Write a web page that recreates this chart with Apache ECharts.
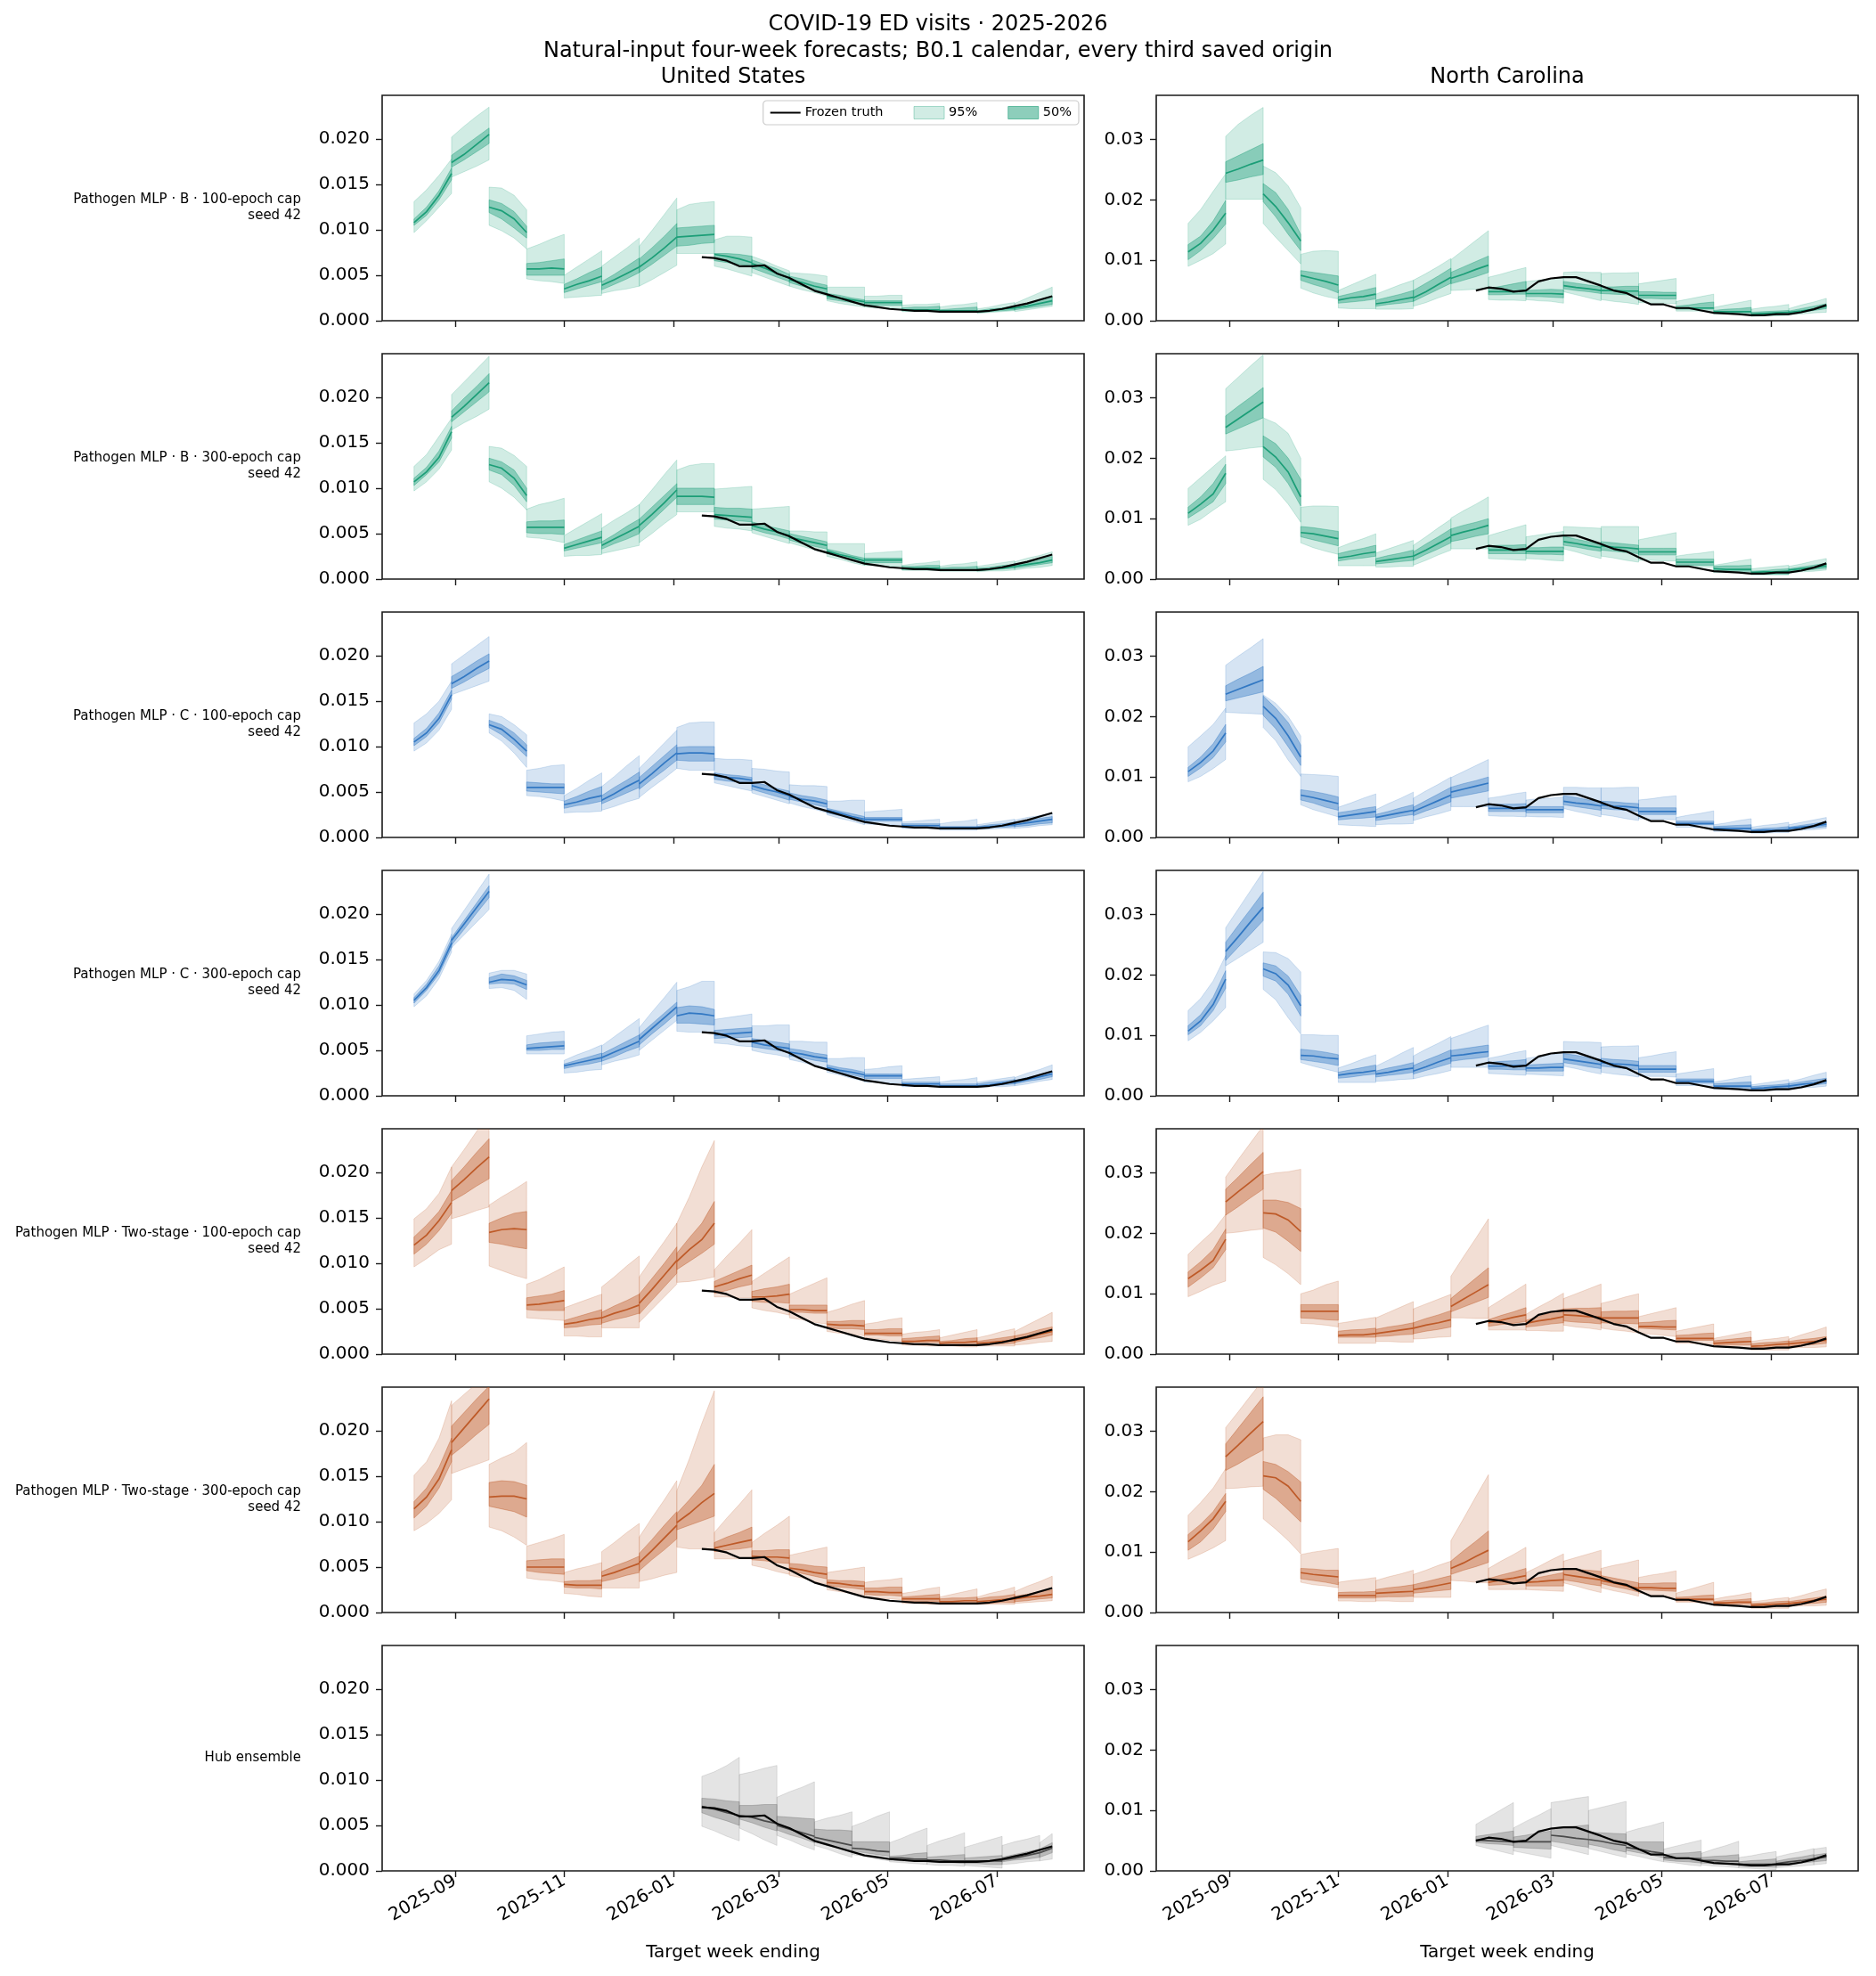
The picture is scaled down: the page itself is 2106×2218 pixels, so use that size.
<!DOCTYPE html>
<html>
<head>
<meta charset="utf-8">
<script src="https://cdn.jsdelivr.net/npm/echarts@6/dist/echarts.min.js"></script>
<style>
  html, body { margin: 0; padding: 0; background: #fff; }
  #chart { width: 2106px; height: 2218px; }
</style>
</head>
<body>
<div id="chart"></div>
<script>
// target week ending (Saturdays)
const weekEnding = [
  '2025-08-09','2025-08-16','2025-08-23','2025-08-30','2025-09-06','2025-09-13','2025-09-20','2025-09-27',
  '2025-10-04','2025-10-11','2025-10-18','2025-10-25','2025-11-01','2025-11-08','2025-11-15','2025-11-22',
  '2025-11-29','2025-12-06','2025-12-13','2025-12-20','2025-12-27','2026-01-03','2026-01-10','2026-01-17',
  '2026-01-24','2026-01-31','2026-02-07','2026-02-14','2026-02-21','2026-02-28','2026-03-07','2026-03-14',
  '2026-03-21','2026-03-28','2026-04-04','2026-04-11','2026-04-18','2026-04-25','2026-05-02','2026-05-09',
  '2026-05-16','2026-05-23','2026-05-30','2026-06-06','2026-06-13','2026-06-20','2026-06-27','2026-07-04',
  '2026-07-11','2026-07-18','2026-07-25','2026-08-01'
];
// forecast origins (index into weekEnding), every third saved origin
const modelSegStarts = [0, 3, 6, 9, 12, 15, 18, 21, 24, 27, 30, 33, 36, 39, 42, 45, 48];
const hubSegStarts = [23, 26, 29, 32, 35, 38, 41, 44, 47, 50];
const truthStart = 23;
const xTickLabels = ['2025-09-01', '2025-11-01', '2026-01-01', '2026-03-01', '2026-05-01', '2026-07-01'];
const usTicks = [0, 0.005, 0.01, 0.015, 0.02];
const ncTicks = [0, 0.01, 0.02, 0.03];

// all values below in thousandths
const usTruth = [7.0,6.9,6.6,6.0,6.0,6.1,5.2,4.7,4.0,3.3,2.9,2.5,2.1,1.7,1.5,1.3,1.2,1.1,1.1,1.0,1.0,1.0,1.0,1.1,1.3,1.6,1.9,2.3,2.7];
const ncTruth = [5.0,5.5,5.3,4.8,5.0,6.5,7.0,7.2,7.2,6.5,5.8,5.0,4.6,3.6,2.7,2.7,2.1,2.1,1.7,1.3,1.2,1.1,0.9,0.9,1.1,1.1,1.4,1.9,2.6];

// Pathogen MLP · B · 100-epoch cap
const usB100Med = [10.8,12,13.8,16.2, 17.4,18.3,19.4,20.5, 12.5,12.1,11.2,9.7, 5.7,5.7,5.8,5.7, 3.5,4,4.4,4.9, 3.9,4.5,5.2,5.9, 5.9,6.9,8,9.2, 9.2,9.3,9.4,9.5, 7.3,7.1,6.8,6.4, 6.3,5.8,5.2,4.7, 4.5,4.2,3.8,3.5, 2.7,2.5,2.3,2.1, 2,2,2,2, 1.2,1.2,1.2,1.2, 1.1,1.1,1.1,1.1, 1,1.1,1.3,1.4, 1.4,1.6,1.9,2.2];
const usB100Lo50 = [10.5,11.6,13.3,15.5, 16.9,17.7,18.6,19.5, 11.9,11.2,10.2,9.1, 5,5,5,5, 3.1,3.5,3.9,4.3, 3.4,4,4.6,5.3, 5.3,6.2,7.2,8.2, 8.2,8.3,8.5,8.6, 6.6,6.4,6.2,6, 5.8,5.3,4.8,4.3, 4.2,3.8,3.4,3, 2.4,2.2,2,1.8, 1.7,1.7,1.7,1.7, 1.1,1.1,1.1,1.1, 1,1,1,1, 0.9,1,1.1,1.2, 1.2,1.4,1.6,1.8];
const usB100Hi50 = [11.2,12.5,14.3,16.8, 18.2,19.2,20.2,21.2, 13.3,12.9,12,10.4, 6.3,6.4,6.6,6.8, 4,4.6,5.3,5.9, 4.3,5.1,6,6.9, 6.8,8,9.3,10.7, 10.2,10.3,10.4,10.5, 7.4,7.4,7.3,7.1, 6.7,6.2,5.7,5.1, 4.9,4.6,4.2,3.9, 3,2.8,2.5,2.3, 2.2,2.2,2.2,2.2, 1.4,1.5,1.5,1.6, 1.2,1.3,1.4,1.5, 1.1,1.3,1.4,1.6, 1.6,1.9,2.3,2.7];
const usB100Lo95 = [9.7,11,12.5,14, 15.8,16.4,17,17.7, 10.5,9.9,9.1,7.9, 4.6,4.4,4.3,4.1, 2.5,2.6,2.7,2.8, 3,3.3,3.5,3.8, 3.8,4.5,5.3,6.1, 7.4,7.4,7.4,7.4, 6,5.7,5.3,4.9, 5.3,4.8,4.3,3.8, 3.8,3.4,3.1,2.7, 2.2,1.9,1.7,1.5, 1.5,1.4,1.4,1.3, 1,1,1,1, 0.9,0.9,0.9,0.9, 0.8,0.9,1,1.1, 1,1.2,1.4,1.6];
const usB100Hi95 = [13.1,14.4,16,17.8, 20.2,21.4,22.5,23.5, 14.7,14.6,13.8,12.2, 7.9,8.4,9,9.5, 5,5.9,6.8,7.7, 6,7,8,9.1, 8.2,9.9,11.7,13.5, 12.2,12.8,13,13.1, 8.9,9.3,9.3,9.2, 7.1,6.6,6,5.5, 5.3,5.2,5.1,4.9, 3.7,3.7,3.7,3.7, 2.7,2.7,2.8,2.8, 1.7,1.8,1.8,1.9, 1.5,1.7,1.8,2, 1.3,1.5,1.8,2, 1.9,2.5,3.1,3.7];
const ncB100Med = [11.4,12.8,15,17.8, 24.4,25.1,25.9,26.6, 21,18.9,16.2,13.2, 7.5,7,6.5,5.9, 3.4,3.8,4,4.4, 2.8,3.1,3.5,3.9, 3.8,4.8,6,7.2, 7,7.7,8.5,9.2, 4.8,4.8,4.8,5, 4.5,4.5,4.5,4.4, 5.8,5.5,5.3,5, 5,5,4.9,4.9, 4.2,4.2,4.2,4.2, 2.1,2.1,2.1,2.1, 1.5,1.5,1.5,1.5, 1.1,1.2,1.3,1.4, 1.4,1.6,1.9,2.4];
const ncB100Lo50 = [10.1,11.6,13.6,16, 22.9,23.3,23.8,24.2, 19.7,17.2,14.3,11.6, 6.7,6,5.4,4.6, 2.9,3.1,3.3,3.6, 2.4,2.7,2.9,3.2, 3.2,4.2,5.2,6.2, 6.1,6.7,7.3,8, 4.3,4.3,4.4,4.4, 4,4,3.9,3.8, 5.3,5,4.8,4.5, 4.5,4.4,4.3,4.2, 3.7,3.7,3.6,3.6, 1.9,1.9,1.9,1.9, 1.3,1.3,1.3,1.3, 0.9,1,1,1.1, 1.2,1.4,1.7,2];
const ncB100Hi50 = [12.6,14,16.5,19.9, 26.3,27.3,28.3,29.3, 22.7,21.2,18.4,14.3, 8.3,8,7.7,7.4, 4,4.5,5,5.5, 3.4,3.9,4.4,5, 5,6.2,7.4,8.7, 8,8.9,9.8,10.7, 5.3,5.7,6.1,6.5, 5,5.1,5.2,5.1, 6.5,6.2,5.9,5.6, 5.6,5.6,5.7,5.7, 4.8,4.8,4.7,4.7, 2.4,2.6,2.9,3.1, 1.7,1.9,2,2.2, 1.4,1.5,1.6,1.7, 1.6,2,2.4,2.8];
const ncB100Lo95 = [9,10,11.1,12.7, 20.1,20.1,20.1,20.1, 16.1,13.8,11.6,9.4, 5.4,4.6,4,3.6, 2.1,2,2,2, 1.9,1.9,1.9,2, 2.4,3,3.8,4.5, 5,5.1,5.2,5.3, 3.5,3.4,3.4,3.3, 3.5,3.3,3.2,2.9, 4.8,4.3,3.8,3.3, 3.5,3.2,3,2.7, 3,2.9,2.9,2.8, 1.6,1.6,1.6,1.6, 1.1,1.1,1.1,1.1, 0.7,0.8,0.8,0.9, 1,1.1,1.3,1.4];
const ncB100Hi95 = [16.1,18.4,21.4,24.3, 30.5,32.5,34,35.3, 25.6,24.5,22.3,18.7, 11,11.5,11.6,11.5, 5,5.9,6.8,7.7, 4.4,5.2,6,6.7, 6.7,7.8,9,10.3, 10.1,11.7,13.3,14.9, 7.2,7.7,8.3,8.8, 6.5,6.7,7,7, 8,8.1,8,8, 7.8,7.9,7.9,8, 6.1,6.4,6.7,7, 3.2,3.6,4,4.4, 2.2,2.6,3,3.4, 1.9,2.2,2.4,2.7, 2,2.6,3.1,3.7];

// Pathogen MLP · B · 300-epoch cap
const usB300Med = [10.7,11.8,13.4,16.2, 17.8,19,20.3,21.6, 12.6,12.2,11.1,9.2, 5.7,5.7,5.7,5.7, 3.4,3.8,4.2,4.6, 3.7,4.4,5.1,5.8, 5.9,7.1,8.4,9.8, 9.1,9.1,9.1,9, 7.1,7,6.9,6.8, 5.9,5.5,5.2,4.8, 4.6,4.3,4,3.7, 3.1,2.7,2.4,2, 2.1,2.1,2.1,2.1, 1.2,1.2,1.2,1.2, 1,1,1,1, 1,1.1,1.2,1.4, 1.4,1.6,1.8,2.1];
const usB300Lo50 = [10.3,11.5,12.9,15.5, 17.3,18.4,19.5,20.6, 12,11.5,10.3,8.5, 5.1,5,5,4.9, 3.1,3.4,3.7,4, 3.3,3.9,4.4,5, 5.1,6.4,7.7,9, 8.2,8.2,8.2,8.2, 6.6,6.5,6.4,6.3, 5.5,5.1,4.8,4.4, 4.3,3.9,3.6,3.3, 2.8,2.5,2.1,1.8, 1.8,1.8,1.8,1.8, 1,1,1,1, 0.9,0.9,0.9,0.9, 0.9,1,1.1,1.2, 1.2,1.4,1.6,1.8];
const usB300Hi50 = [11.1,12.3,14.1,16.8, 18.5,19.9,21.2,22.6, 13.3,12.9,12,10, 6.3,6.4,6.4,6.5, 3.8,4.3,4.8,5.3, 4.1,4.9,5.8,6.6, 6.6,7.9,9.2,10.5, 10,10,10,10, 7.9,7.8,7.8,7.7, 6.3,5.9,5.6,5.3, 5,4.7,4.4,4.1, 3.3,3,2.6,2.3, 2.3,2.3,2.3,2.3, 1.4,1.4,1.5,1.5, 1.2,1.3,1.3,1.4, 1.2,1.3,1.5,1.6, 1.6,1.9,2.2,2.5];
const usB300Lo95 = [9.7,10.7,12.1,14.2, 16.4,17.2,17.9,18.7, 10.7,10,9,7.6, 4.6,4.5,4.3,4, 2.5,2.6,2.6,2.7, 2.8,3.1,3.4,3.7, 4,5,6.1,7.1, 7.4,7.4,7.4,7.4, 5.8,5.6,5.5,5.3, 5.1,4.7,4.3,3.9, 4,3.6,3.2,2.8, 2.5,2.2,1.8,1.5, 1.5,1.5,1.4,1.4, 1,1,1,1, 0.9,0.9,0.9,0.9, 0.8,0.9,0.9,1, 1,1.2,1.3,1.5];
const usB300Hi95 = [12.4,13.7,15.7,17.7, 20.3,21.7,23.1,24.5, 14.6,14.4,13.6,12.4, 7.7,8.2,8.5,8.9, 4.8,5.6,6.4,7.2, 5.6,6.5,7.3,8.2, 8.2,9.8,11.5,13.1, 12,12.5,12.7,12.7, 9.9,10,10.1,10.2, 7.7,7.8,7.9,8, 5.3,5.3,5.2,5.2, 3.9,3.9,3.9,3.9, 2.8,2.9,3,3.1, 1.5,1.7,1.8,2, 1.4,1.6,1.7,1.9, 1.4,1.6,1.8,2, 1.9,2.3,2.6,3];
const ncB300Med = [10.9,12.4,14.1,17.5, 25.1,26.5,27.9,29.3, 21.9,20.2,17.7,13.6, 7.7,7.5,7.1,6.7, 3.5,3.8,4.2,4.5, 2.9,3.2,3.5,3.8, 3.8,4.8,5.9,7, 7.2,7.8,8.3,8.9, 4.8,4.8,4.8,4.8, 4.6,4.6,4.6,4.6, 6.2,5.9,5.5,5.2, 5.5,5.3,5.2,5, 4.5,4.5,4.5,4.5, 2.8,2.8,2.8,2.8, 1.7,1.6,1.6,1.6, 1.1,1.2,1.2,1.3, 1.5,1.7,1.9,2.2];
const ncB300Lo50 = [10.1,11.4,12.8,15.8, 24,24.9,25.8,26.7, 20.2,18.5,15.8,12.1, 7,6.5,6,5.5, 3,3.3,3.5,3.8, 2.5,2.7,2.9,3.1, 3.1,4.1,5,6, 6.2,6.6,7.1,7.5, 4.2,4.2,4.2,4.2, 4.2,4.1,4.1,4, 5.6,5.3,4.9,4.6, 4.8,4.6,4.4,4.2, 4,4,4,4, 2.3,2.3,2.3,2.3, 1.3,1.3,1.3,1.3, 0.8,0.8,0.8,0.8, 1.2,1.4,1.6,1.8];
const ncB300Hi50 = [11.9,13.6,15.8,19, 27,28.6,30.1,31.7, 23.7,22.4,20,16.5, 8.7,8.5,8.2,7.9, 4.2,4.7,5.1,5.6, 3.4,3.9,4.3,4.8, 4.5,5.8,7,8.3, 8.3,8.9,9.4,10, 5.5,5.6,5.6,5.7, 5.2,5.2,5.3,5.3, 7.1,6.6,6.2,5.7, 6.2,6,5.8,5.6, 5.1,5.1,5.1,5.1, 3.3,3.3,3.3,3.3, 2.1,2.2,2.2,2.3, 1.3,1.4,1.6,1.7, 1.7,2,2.3,2.6];
const ncB300Lo95 = [8.9,9.9,11.4,12.8, 21.2,21.4,21.7,21.9, 16.5,14.8,12.4,9.4, 6,5.2,4.6,4.1, 2.2,2.2,2.2,2.2, 2,2,2.1,2.1, 2.3,3.1,4,4.8, 5,5,5,5, 3.4,3.3,3.2,3.1, 3.4,3.3,3.1,3, 5,4.5,3.9,3.4, 3.8,3.5,3.1,2.8, 3.1,3.1,3,3, 2,2,2,2, 1.1,1.1,1.1,1.1, 0.7,0.7,0.7,0.7, 1,1.2,1.3,1.5];
const ncB300Hi95 = [15,16.8,18.6,20.4, 31.5,33.4,35.3,37.1, 26.7,25.8,24.1,20, 11.9,12.1,12.1,12, 5.2,6,6.7,7.5, 4.3,5,5.7,6.4, 5.6,7,8.5,9.9, 10.1,11.3,12.4,13.6, 7.2,7.8,8.4,9, 7,7.3,7.6,7.9, 8.7,8.6,8.5,8.4, 8.7,8.7,8.7,8.7, 6.5,6.9,7.3,7.7, 3.8,4.1,4.3,4.6, 2.3,2.6,3,3.3, 1.7,1.9,2.1,2.3, 2.1,2.5,3,3.4];

// Pathogen MLP · C · 100-epoch cap
const usC100Med = [10.5,11.5,13.1,15.7, 16.9,17.7,18.6,19.4, 12.4,11.9,10.8,9.5, 5.5,5.5,5.5,5.5, 3.6,3.9,4.3,4.6, 4.1,4.8,5.6,6.3, 5.9,7,8.2,9.3, 9.2,9.3,9.3,9.2, 6.8,6.6,6.5,6.3, 5.7,5.3,5,4.6, 4.5,4.2,4,3.7, 3,2.7,2.3,2, 2,2,2,2, 1.3,1.3,1.3,1.3, 1.1,1.1,1.1,1.1, 1.1,1.2,1.3,1.4, 1.4,1.6,1.8,2];
const usC100Lo50 = [10.1,11.1,12.6,15.2, 16.4,17.1,17.9,18.6, 12.1,11.3,10.2,8.9, 5.1,5,4.9,4.8, 3.2,3.5,3.7,4, 3.7,4.3,4.9,5.5, 5.3,6.4,7.4,8.5, 8.5,8.4,8.4,8.4, 6.4,6.2,6.1,5.9, 5.3,4.9,4.5,4.1, 4.2,3.9,3.6,3.3, 2.7,2.4,2.1,1.8, 1.8,1.8,1.8,1.8, 1.1,1.1,1.1,1.1, 1,1,1,1, 1,1.1,1.1,1.2, 1.2,1.3,1.5,1.6];
const usC100Hi50 = [10.9,12,13.7,16.2, 17.7,18.5,19.4,20.2, 12.9,12.4,11.5,10.2, 6.1,6,5.9,5.9, 4,4.5,5.1,5.6, 4.6,5.5,6.3,7.2, 6.6,7.8,9,10.2, 9.9,10,10,10, 7.1,6.9,6.8,6.6, 6.1,5.8,5.4,5.1, 4.9,4.6,4.4,4.1, 3.2,2.9,2.6,2.3, 2.2,2.2,2.2,2.2, 1.5,1.5,1.5,1.5, 1.2,1.2,1.2,1.2, 1.2,1.4,1.5,1.7, 1.6,1.8,2.1,2.3];
const usC100Lo95 = [9.5,10.4,11.8,14.1, 15.7,16.2,16.7,17.2, 11.5,10.6,9.3,7.7, 4.6,4.5,4.3,4, 2.7,2.8,2.8,2.9, 3,3.4,3.9,4.3, 4.4,5.5,6.5,7.6, 7.6,7.4,7.4,7.4, 6,5.7,5.4,5.1, 4.9,4.5,4.1,3.7, 3.8,3.4,3.1,2.7, 2.5,2.1,1.8,1.4, 1.5,1.4,1.4,1.3, 1,1,1,1, 0.8,0.8,0.8,0.8, 0.9,0.9,1,1, 1,1.1,1.3,1.4];
const usC100Hi95 = [12.6,13.6,15,17.2, 19.1,20.1,21.1,22.1, 13.6,13.3,12.4,11.3, 7.4,7.6,7.9,8, 4.6,5.4,6.3,7.1, 5.6,6.7,7.9,9, 7.6,9,10.4,11.8, 12.1,12.6,12.7,12.7, 8.7,8.6,8.6,8.5, 7.6,7.5,7.3,7.2, 5.8,5.7,5.7,5.6, 4,4,4.1,4.1, 2.8,2.9,3,3.1, 1.7,1.8,1.9,2, 1.5,1.7,1.8,2, 1.4,1.6,1.8,2, 1.9,2.2,2.4,2.7];
const ncC100Med = [10.9,12.4,14.3,17.3, 23.7,24.5,25.3,26.1, 21.7,19.7,16.8,13.3, 7,6.6,6.1,5.6, 3.4,3.7,4,4.3, 3.3,3.7,4.1,4.5, 4.3,5.2,6.1,7, 7.5,8,8.5,9, 4.8,4.8,4.8,4.8, 4.6,4.6,4.6,4.6, 6,5.7,5.5,5.2, 5.4,5.2,5.1,4.9, 4.3,4.3,4.3,4.3, 2.3,2.3,2.3,2.3, 1.5,1.5,1.5,1.5, 1.1,1.2,1.2,1.3, 1.5,1.7,1.9,2.2];
const ncC100Lo50 = [10.1,11.5,13.2,15.8, 22.6,23.1,23.6,24.1, 20.2,18,15,11.9, 6.2,5.7,5,4.5, 2.9,3.1,3.2,3.4, 2.8,3.1,3.5,3.8, 3.6,4.4,5.1,5.9, 6.5,6.9,7.3,7.7, 4.3,4.3,4.3,4.3, 4.1,4.1,4.1,4.1, 5.4,5.1,4.8,4.5, 4.8,4.6,4.5,4.3, 3.8,3.8,3.8,3.8, 2.1,2.1,2.1,2.1, 1.2,1.2,1.2,1.2, 0.8,0.9,1,1.1, 1.2,1.4,1.6,1.8];
const ncC100Hi50 = [11.6,13.3,15.5,18.7, 25.1,26.2,27.2,28.3, 23.4,21.4,19,15.3, 7.9,7.6,7.2,6.7, 4.1,4.4,4.8,5.1, 3.8,4.3,4.9,5.4, 5,6.1,7.2,8.3, 8.3,8.9,9.4,10, 5.4,5.5,5.5,5.6, 5.1,5.1,5.1,5.1, 6.9,6.6,6.2,5.9, 6,5.9,5.7,5.6, 4.9,4.9,4.9,4.9, 2.7,2.7,2.7,2.7, 1.8,1.9,2,2.1, 1.3,1.5,1.6,1.8, 1.7,2,2.3,2.6];
const ncC100Lo95 = [9.2,10.1,11.4,12.9, 20.7,20.6,20.5,20.4, 18.2,16,12.8,10.1, 5.4,4.6,4,3.4, 2.1,2,1.9,1.8, 2.1,2.2,2.2,2.3, 2.8,3.4,3.9,4.5, 5.1,5.1,5.1,5.1, 3.6,3.5,3.5,3.4, 3.5,3.4,3.4,3.3, 4.8,4.3,3.9,3.4, 3.8,3.5,3.1,2.8, 3.1,3,3,2.9, 1.7,1.7,1.7,1.7, 1,1,1,1, 0.7,0.7,0.8,0.8, 1,1.2,1.3,1.5];
const ncC100Hi95 = [15,16.8,18.7,21.4, 28.5,30,31.4,32.9, 23.6,22.2,20,16.8, 10.5,10.4,10.3,10.1, 5,5.7,6.5,7.2, 4.6,5.6,6.5,7.5, 6.5,7.7,8.8,10, 9.9,10.9,11.9,12.9, 6.5,6.8,7.2,7.5, 6.2,6.4,6.5,6.7, 8.3,8.3,8.2,8.2, 8.2,8.2,8.3,8.3, 6.2,6.4,6.7,6.9, 3.3,3.7,4,4.4, 2.1,2.4,2.8,3.1, 1.7,2,2.2,2.5, 2.1,2.5,2.9,3.3];

// Pathogen MLP · C · 300-epoch cap
const usC300Med = [10.5,11.9,13.8,16.8, 17.1,18.9,20.7,22.5, 12.5,12.8,12.7,12.2, 5.2,5.3,5.4,5.5, 3.3,3.6,3.9,4.2, 4.2,4.8,5.4,6, 6.2,7.4,8.6,9.8, 8.8,9.1,9,8.8, 6.7,6.8,6.9,7, 5.9,5.6,5.4,5.2, 4.8,4.6,4.3,4.1, 3.1,2.8,2.6,2.3, 2.2,2.2,2.2,2.2, 1.3,1.3,1.3,1.3, 1.1,1.1,1.1,1.1, 1.1,1.2,1.4,1.5, 1.5,1.8,2.1,2.4];
const usC300Lo50 = [10.2,11.6,13.4,16.3, 16.6,18.3,20.1,21.8, 12.3,12.4,12.3,11.7, 5,5,5.1,5.1, 3,3.3,3.5,3.8, 3.8,4.3,4.9,5.4, 5.6,6.8,7.9,9.1, 8,8,7.9,7.8, 6.3,6.4,6.4,6.5, 5.4,5.2,5,4.8, 4.4,4.2,3.9,3.7, 2.9,2.6,2.3,2, 1.9,1.9,1.9,1.9, 1.1,1.1,1.1,1.1, 1,1,1,1, 1,1.1,1.2,1.3, 1.3,1.6,1.8,2.1];
const usC300Hi50 = [10.8,12.3,14.3,17.3, 17.4,19.3,21.2,23.1, 13,13.4,13.2,12.7, 5.6,5.8,5.9,6, 3.5,3.9,4.3,4.7, 4.6,5.3,6,6.7, 6.7,7.9,9.1,10.3, 9.7,9.9,9.8,9.5, 7.2,7.3,7.4,7.5, 6.3,6.1,5.9,5.7, 5.2,5,4.7,4.5, 3.4,3.1,2.9,2.6, 2.4,2.4,2.4,2.4, 1.5,1.5,1.5,1.5, 1.3,1.3,1.3,1.3, 1.3,1.5,1.6,1.8, 1.7,2,2.3,2.6];
const usC300Lo95 = [9.8,11,12.9,15.8, 16.3,17.7,19.1,20.5, 11.8,11.9,11.6,10.6, 4.6,4.6,4.6,4.6, 2.5,2.6,2.8,2.9, 3.4,3.8,4.1,4.5, 5,6.1,7.2,8.3, 7.1,7,7,7, 5.8,5.7,5.5,5.4, 5,4.7,4.5,4.2, 4,3.7,3.3,3, 2.6,2.3,1.9,1.6, 1.5,1.5,1.4,1.4, 1,1,1,1, 0.9,0.9,0.9,0.9, 0.9,1,1,1.1, 1.1,1.3,1.6,1.8];
const usC300Hi95 = [11.2,12.7,14.8,17.8, 18.4,20.4,22.4,24.4, 13.5,13.8,13.8,13.4, 6.6,6.8,7,7.1, 3.9,4.5,5,5.6, 5.5,6.5,7.5,8.5, 7.5,9.2,10.8,12.5, 11.6,12,12.6,12.6, 8.4,8.6,8.8,9, 7.7,7.7,7.8,7.8, 6,6,5.9,5.9, 4.1,4.1,4.2,4.2, 2.9,3,3.2,3.3, 1.8,1.9,2,2.1, 1.5,1.7,1.8,2, 1.5,1.7,1.9,2.1, 2,2.5,2.9,3.4];
const ncC300Med = [10.7,12.4,15.1,19.3, 23.9,26.3,28.8,31.2, 21,20.2,18.3,14.9, 6.7,6.6,6.3,6.1, 3.4,3.7,3.9,4.2, 3.6,3.9,4.3,4.6, 4.1,4.8,5.6,6.3, 6.6,6.8,7.1,7.3, 4.9,4.9,5,5, 4.6,4.6,4.7,4.7, 6.1,5.8,5.5,5.2, 5.5,5.3,5.2,5, 4.4,4.4,4.4,4.4, 2.4,2.4,2.4,2.4, 1.6,1.6,1.6,1.6, 1.2,1.3,1.5,1.6, 1.6,1.9,2.1,2.4];
const ncC300Lo50 = [10.1,11.6,14.1,17.8, 22.4,24.6,26.8,29, 19.8,19,16.8,13.2, 6,5.7,5.4,5, 2.9,3.1,3.4,3.6, 3.1,3.4,3.6,3.9, 3.6,4.2,4.8,5.4, 5.7,6,6.2,6.5, 4.4,4.4,4.3,4.3, 4.1,4.1,4.1,4.1, 5.5,5.2,4.8,4.5, 4.9,4.7,4.5,4.3, 3.9,3.9,3.9,3.9, 2.1,2.1,2.1,2.1, 1.3,1.3,1.3,1.3, 1,1.1,1.2,1.3, 1.3,1.5,1.8,2];
const ncC300Hi50 = [11.6,13.4,16.3,20.7, 25.4,28.2,30.9,33.7, 22,21.5,19.8,16.6, 7.7,7.5,7.2,6.8, 3.9,4.3,4.7,5.1, 4.1,4.6,5,5.5, 5,5.9,6.7,7.6, 7.5,7.8,8.1,8.4, 5.5,5.7,5.8,6, 5.1,5.2,5.3,5.4, 7,6.7,6.3,6, 6.2,6,5.9,5.7, 5,5,5,5, 2.8,2.8,2.8,2.8, 2,2.1,2.2,2.3, 1.5,1.7,1.8,2, 2,2.3,2.6,2.9];
const ncC300Lo95 = [9.1,10.5,12.4,14.6, 21.5,22.8,24.1,25.4, 17.6,15.9,12.9,10.2, 5.5,4.9,4.4,3.9, 2.2,2.2,2.2,2.2, 2.4,2.5,2.7,2.8, 2.8,3.3,3.7,4.2, 4.7,4.7,4.7,4.7, 3.7,3.6,3.5,3.4, 3.6,3.5,3.4,3.3, 4.9,4.5,4,3.6, 3.9,3.6,3.4,3.1, 3.3,3.2,3.2,3.1, 1.7,1.7,1.7,1.7, 1.1,1.1,1.1,1.1, 0.8,0.9,0.9,1, 1.1,1.3,1.4,1.6];
const ncC300Hi95 = [14.1,16.1,19,23.2, 27.8,30.9,34,37.1, 23.8,23.7,22.7,20.5, 10.1,10.1,10,10, 4.6,5.3,6.1,6.8, 4.9,5.9,7,8, 6.6,7.7,8.7,9.8, 9.5,10.2,11,11.7, 6.2,6.6,7.1,7.5, 6.2,6.5,6.8,7.1, 9,8.9,8.9,8.8, 8.1,8.2,8.2,8.3, 6.3,6.6,7,7.3, 3.6,3.9,4.2,4.5, 2.3,2.6,3,3.3, 1.8,2.1,2.4,2.7, 2.3,2.8,3.4,3.9];

// Pathogen MLP · Two-stage · 100-epoch cap
const usT100Med = [12,13.1,14.7,16.7, 18,19.2,20.5,21.7, 13.4,13.7,13.8,13.7, 5.4,5.5,5.7,5.9, 3.3,3.5,3.8,4, 4,4.5,4.9,5.4, 5.6,7.1,8.7,10.3, 10.2,11.5,12.6,14.4, 7.4,7.8,8.3,8.7, 6.3,6.3,6.4,6.6, 4.9,4.9,4.8,4.8, 3.3,3.2,3.2,3.1, 2.3,2.3,2.3,2.3, 1.4,1.4,1.5,1.5, 1.2,1.3,1.3,1.4, 1.2,1.3,1.4,1.5, 1.5,1.8,2.2,2.5];
const usT100Lo50 = [11,12.1,13.6,15.5, 16.8,17.6,18.5,19.3, 12.3,12.1,11.8,11.6, 4.9,4.8,4.8,4.8, 2.9,3,3.2,3.3, 3.4,3.8,4.1,4.5, 4.4,5.9,7.4,8.9, 9.3,10.2,11.1,12.1, 6.7,7,7.4,7.7, 5.8,5.7,5.7,5.6, 4.6,4.6,4.5,4.5, 2.9,2.8,2.8,2.7, 2.1,2.1,2,2, 1.3,1.3,1.3,1.3, 1,1,1,1, 1,1.1,1.1,1.2, 1.3,1.6,1.8,2.1];
const usT100Hi50 = [12.9,14.2,15.7,18, 19.1,20.6,22.2,23.7, 14.4,15,15.5,15.7, 6.2,6.4,6.6,7, 3.7,4.1,4.5,4.9, 4.6,5.3,5.9,6.6, 6.6,8.3,10,11.8, 11.1,12.8,14.4,16.8, 8,8.6,9.2,9.8, 6.9,7.2,7.4,7.7, 5.4,5.4,5.4,5.4, 3.6,3.6,3.7,3.7, 2.7,2.7,2.8,2.8, 1.7,1.8,1.9,2, 1.4,1.5,1.7,1.8, 1.4,1.6,1.8,2, 2,2.3,2.7,3];
const usT100Lo95 = [9.6,10.5,11.5,12.1, 14.9,15.3,15.8,16.2, 9.7,9.2,8.7,8.3, 4,3.9,3.8,3.7, 2,2,1.9,1.9, 2.9,2.9,2.9,2.9, 3.5,4.9,6.3,7.7, 7.9,8,8.2,8.5, 6.3,6.3,6.2,6.2, 5.1,4.8,4.6,4.3, 4,3.8,3.5,3.3, 2.5,2.3,2.2,2, 1.8,1.7,1.5,1.4, 1,1,0.9,0.9, 0.9,0.9,0.8,0.8, 0.9,0.9,0.9,0.9, 1,1.1,1.3,1.4];
const usT100Hi95 = [14.9,16,17.7,20.6, 20.6,22.5,24.5,26.5, 16.4,17.3,18.1,19, 7.7,8.2,8.9,9.6, 5.1,5.6,6.1,6.6, 7.4,8.5,9.7,10.8, 8.5,10.5,12.4,14.4, 14.4,17.3,20.6,23.5, 9.3,10.8,12.2,13.7, 8,8.9,9.8,10.7, 6.6,7.2,7.8,8.4, 4.6,5,5.5,5.9, 3.3,3.5,3.8,4, 2.2,2.4,2.5,2.7, 1.8,2.1,2.4,2.7, 1.8,2.1,2.5,2.8, 2.5,3.2,3.9,4.6];
const ncT100Med = [12.5,13.9,15.5,19, 25.2,26.9,28.5,30.2, 23.4,23.2,22.2,20.3, 7.1,7.1,7.1,7.1, 3.1,3.2,3.2,3.4, 3.4,3.7,4,4.3, 4.3,4.8,5.2,5.7, 7.9,9.1,10.3,11.5, 5.2,5.6,6.1,6.5, 5.1,5.5,5.8,6.2, 6.5,6.4,6.2,6.1, 6,6,6,6, 4.6,4.6,4.5,4.5, 2.6,2.6,2.6,2.6, 1.8,1.9,2,2.1, 1.3,1.4,1.6,1.7, 1.7,1.9,2.1,2.3];
const ncT100Lo50 = [11.1,12.6,14.3,17.3, 23,24.4,25.9,27.3, 20.9,20.2,18.7,17, 6,5.9,5.7,5.6, 2.8,2.8,2.8,2.8, 2.9,3,3.2,3.3, 3.4,3.8,4.1,4.5, 7,7.8,8.6,9.4, 4.6,4.9,5.1,5.4, 4.5,4.7,5,5.2, 5.5,5.3,5.2,5, 5.2,5.1,5.1,5, 4.3,4.2,4.1,4, 2.3,2.3,2.3,2.3, 1.5,1.5,1.5,1.5, 1,1.1,1.1,1.2, 1.3,1.5,1.6,1.8];
const ncT100Hi50 = [13.6,15.3,17.3,20.7, 27.3,29.3,31.4,33.4, 25.5,25.5,25.1,24.1, 8.2,8.2,8.2,8.2, 3.8,4,4.1,4.3, 4.1,4.5,4.8,5.2, 5.2,5.9,6.5,7.2, 9.2,10.9,12.6,14.3, 5.7,6.4,7,7.7, 5.6,6.2,6.9,7.5, 7.5,7.6,7.6,7.7, 7,7.1,7.1,7.2, 5.2,5.3,5.5,5.6, 3.1,3.2,3.4,3.5, 2.2,2.4,2.6,2.8, 1.7,1.9,2,2.2, 2.1,2.4,2.6,2.9];
const ncT100Lo95 = [9.5,10.4,11.4,12.1, 20,20.2,20.5,20.7, 16,14.8,13.3,11.5, 5.1,5,4.8,4.5, 1.8,1.8,1.8,1.8, 2.1,2.1,2,2, 2.5,2.6,2.8,2.9, 6,6,5.9,5.9, 4,4,4,4, 3.9,3.9,3.8,3.8, 4.8,4.5,4.3,4, 4.3,4,3.8,3.5, 3.5,3.3,3.1,2.9, 1.8,1.8,1.7,1.7, 1.2,1.2,1.1,1.1, 0.7,0.7,0.7,0.7, 1,1.1,1.1,1.2];
const ncT100Hi95 = [16.5,18.5,20.4,23.1, 29.3,32.2,35,37.8, 29.6,30,30.2,30.6, 10,10.6,11.5,12.1, 5.1,5.4,5.8,6.1, 6,6.9,7.8,8.7, 7.5,8.3,9.1,9.9, 12.9,16.1,19.2,22.4, 7.7,9,10.3,11.6, 6.6,7.8,8.9,10.1, 9.2,10,10.8,11.6, 8.4,8.9,9.5,10, 6.2,6.7,7.2,7.7, 3.8,4.2,4.6,5, 2.6,3,3.4,3.8, 2.1,2.4,2.6,2.9, 2.5,3.2,3.8,4.5];

// Pathogen MLP · Two-stage · 300-epoch cap
const usT300Med = [11.4,12.7,14.7,17.9, 18.7,20.3,21.9,23.5, 12.7,12.8,12.8,12.5, 5,5,5,5, 3.1,3,3,3, 4,4.4,4.9,5.4, 5.5,6.8,8.2,9.6, 9.9,10.9,12.1,13.1, 7.1,7.4,7.7,8, 6.2,6.1,6.1,6, 4.9,4.7,4.4,4.2, 3.3,3.2,3,2.9, 2.3,2.3,2.2,2.2, 1.5,1.5,1.5,1.5, 1.2,1.2,1.3,1.3, 1.2,1.3,1.4,1.5, 1.5,1.7,1.8,2];
const usT300Lo50 = [10.4,11.7,13.7,16.6, 17.3,18.4,19.6,20.7, 11.7,11.4,11.1,10.5, 4.6,4.4,4.3,4.2, 2.8,2.7,2.7,2.6, 3.4,3.7,4.1,4.4, 4.6,5.8,6.9,8.1, 9.1,9.6,10.1,10.6, 6.7,6.9,7,7.2, 5.8,5.7,5.5,5.4, 4.6,4.3,4,3.7, 3,2.8,2.7,2.5, 2,1.9,1.9,1.8, 1.2,1.2,1.2,1.2, 1.1,1.1,1.1,1.1, 1,1,1.1,1.1, 1.2,1.3,1.5,1.6];
const usT300Hi50 = [12.2,13.7,16,19.2, 20.5,22,23.5,24.9, 14.3,14.5,14.4,14, 5.7,5.8,5.9,5.9, 3.4,3.5,3.5,3.6, 4.5,5.1,5.6,6.2, 6.5,8,9.6,11.1, 10.9,12.4,14,16.3, 7.7,8.3,8.8,9.4, 6.8,6.8,6.9,6.9, 5.4,5.3,5.1,5, 3.6,3.5,3.5,3.4, 2.7,2.7,2.8,2.8, 1.7,1.8,1.9,2, 1.5,1.6,1.6,1.7, 1.5,1.7,1.8,2, 1.8,2,2.3,2.5];
const usT300Lo95 = [9,9.8,10.9,12.4, 15.3,15.8,16.3,16.8, 9.4,9,8.3,7.4, 3.8,3.6,3.5,3.3, 2.1,2,1.8,1.7, 2.7,2.7,2.7,2.7, 3.4,3.7,4.1,4.4, 7.2,7,7,7, 5.9,5.9,5.9,5.9, 5.2,4.9,4.5,4.2, 4.1,3.8,3.4,3.1, 2.5,2.3,2.1,1.9, 1.7,1.6,1.5,1.4, 1,1,0.9,0.9, 0.9,0.9,0.9,0.9, 0.9,0.9,0.9,0.9, 1,1.1,1.2,1.3];
const usT300Hi95 = [15.1,16.6,19.2,23.3, 22.8,24,25.2,26.5, 16.3,17,17.6,18.7, 7.3,7.7,8.1,8.6, 4.4,4.8,5.1,5.5, 6.7,7.7,8.8,9.8, 8.3,10.4,12.4,14.5, 13.4,16.9,20.8,24.4, 8.8,10.4,11.9,13.5, 7.7,8.7,9.6,10.6, 6.3,6.6,6.9,7.2, 4.4,4.6,4.8,5, 3.3,3.5,3.6,3.8, 2.1,2.3,2.6,2.8, 1.7,2,2.3,2.6, 1.7,2.1,2.4,2.8, 2.3,2.9,3.4,4];
const ncT300Med = [11.7,13.5,15.5,18.4, 25.8,27.7,29.7,31.6, 22.6,22.3,20.9,18.4, 6.6,6.3,6.1,5.9, 2.8,2.8,2.8,2.8, 3.2,3.3,3.4,3.5, 3.8,4.1,4.5,4.9, 7.3,8.2,9.3,10.3, 5,5.4,5.7,6.1, 5,5.1,5.3,5.4, 6.3,6,5.7,5.4, 5.3,4.9,4.4,4, 4.1,4.1,4,4, 2.2,2.2,2.2,2.2, 1.6,1.6,1.7,1.7, 1.2,1.3,1.4,1.5, 1.5,1.7,2,2.2];
const ncT300Lo50 = [10.3,11.7,13.8,16.7, 23.5,24.6,25.8,26.9, 20.4,18.9,17,15, 5.6,5.3,5,4.6, 2.4,2.4,2.4,2.4, 2.5,2.6,2.6,2.7, 3.2,3.4,3.6,3.8, 6.3,7,7.6,8.3, 4.5,4.6,4.8,4.9, 4.4,4.4,4.4,4.4, 5.4,5.1,4.7,4.4, 4.8,4.3,3.9,3.4, 3.8,3.7,3.6,3.5, 1.9,1.9,1.9,1.9, 1.4,1.4,1.4,1.4, 1,1,1.1,1.1, 1.2,1.4,1.5,1.7];
const ncT300Hi50 = [12.9,14.6,16.7,19.7, 27.9,30.5,33.1,35.7, 25,24.5,23.3,21.6, 7.3,7.2,7,7, 3.3,3.4,3.4,3.5, 3.8,4.1,4.3,4.6, 4.6,5.1,5.6,6.1, 8.5,10.2,11.8,13.5, 5.6,6.2,6.7,7.3, 5.4,5.8,6.2,6.6, 7.3,7.1,7,6.8, 6.1,5.7,5.3,4.9, 4.8,4.8,4.9,4.9, 2.5,2.6,2.8,2.9, 1.8,2,2.1,2.3, 1.5,1.6,1.8,1.9, 1.8,2.1,2.4,2.7];
const ncT300Lo95 = [8.8,9.7,10.7,11.9, 20.5,20.6,20.8,20.9, 15.5,13.8,11.9,9.7, 5,4.6,4.4,4.1, 1.9,1.9,1.8,1.8, 1.9,1.9,1.8,1.8, 2.5,2.5,2.5,2.5, 5.3,5.2,5,4.9, 3.8,3.8,3.8,3.8, 3.8,3.7,3.6,3.5, 4.9,4.4,3.8,3.3, 4.1,3.6,3.2,2.7, 3.2,2.9,2.7,2.4, 1.7,1.7,1.6,1.6, 1.1,1.1,1,1, 0.7,0.7,0.7,0.7, 1,1.1,1.1,1.2];
const ncT300Hi95 = [16.1,18.2,20.6,23.8, 30.6,33.2,35.9,38.5, 28.9,29.4,29.4,28.6, 9.6,10,10.3,10.6, 5,5.3,5.5,5.8, 5.3,5.9,6.4,7, 6.3,7,7.8,8.5, 11.9,15.5,19.2,22.8, 7.3,8.5,9.6,10.8, 6.6,7.6,8.7,9.7, 8.5,9.1,9.7,10.3, 7.3,7.8,8.2,8.7, 5.8,6.2,6.5,6.9, 3.2,3.8,4.4,5, 2.2,2.6,2.9,3.3, 1.8,2,2.3,2.5, 2.3,2.8,3.4,3.9];

// Hub ensemble (origins from 2026-01-17)
const usHubMed = [7.1,6.8,6.4,6.1, 6.1,5.9,5.5,5.2, 5,4.6,4.2,3.8, 3.7,3.4,3.1,2.8, 2.5,2.4,2.2,2.1, 1.4,1.4,1.3,1.3, 1.2,1.2,1.1,1.1, 1.1,1.1,1.1,1.1, 1.2,1.4,1.7,2, 2,2.5];
const usHubLo50 = [6.4,5.9,5.5,5, 5.7,5.3,4.8,4.4, 4.5,4,3.6,3.1, 3.2,2.8,2.5,2.1, 2.2,2,1.8,1.6, 1.2,1.1,1.1,1, 1,0.9,0.9,0.8, 0.8,0.8,0.7,0.7, 1,1.2,1.3,1.5, 1.5,2];
const usHubHi50 = [8,7.9,7.7,7.6, 7.2,7.2,7.3,7.3, 6,5.9,5.8,5.7, 4.6,4.5,4.5,4.4, 3.2,3.2,3.2,3.2, 1.6,1.7,1.9,2, 1.5,1.6,1.7,1.8, 1.4,1.5,1.6,1.7, 1.5,1.8,2.1,2.4, 2.4,3.1];
const usHubLo95 = [4.9,4.4,3.8,3.3, 4.7,4.1,3.4,2.8, 3.9,3.4,2.8,2.3, 2.8,2.4,1.9,1.5, 1.8,1.6,1.3,1.1, 1,0.9,0.8,0.7, 0.7,0.6,0.6,0.5, 0.6,0.5,0.4,0.3, 0.7,0.8,1,1.1, 1.1,1.3];
const usHubHi95 = [10.4,10.9,11.6,12.5, 10.6,10.9,11.3,11.6, 8.1,8.7,9.2,9.8, 5.4,5.8,6.1,6.5, 4.9,5.4,6,6.5, 3.1,3.6,4.2,4.7, 2.8,3.3,3.7,4.2, 2.6,3,3.4,3.8, 2.8,3.2,3.5,3.9, 3.1,4.1];
const ncHubMed = [5.1,5,4.9,4.8, 4.8,4.8,4.8,4.8, 5.9,5.7,5.4,5.2, 5.2,4.9,4.5,4.2, 3.9,3.6,3.2,2.9, 2.2,2.1,2.1,2, 1.7,1.7,1.6,1.6, 1.1,1.1,1.1,1.1, 1.2,1.5,1.7,2, 2,2.3];
const ncHubLo50 = [4.7,4.5,4.4,4.2, 3.9,3.8,3.7,3.6, 4.9,4.6,4.2,3.9, 4.4,4,3.5,3.1, 3.4,3,2.6,2.2, 1.8,1.6,1.5,1.3, 1.3,1.2,1.1,1, 0.8,0.7,0.7,0.6, 0.8,1,1.3,1.5, 1.5,1.7];
const ncHubHi50 = [5.7,6,6.3,6.6, 5.6,5.9,6.3,6.6, 7.1,7.3,7.4,7.6, 6.4,6.3,6.2,6.1, 4.8,4.8,4.8,4.8, 2.7,2.9,3,3.2, 2.2,2.4,2.5,2.7, 1.5,1.7,1.8,2, 1.6,2,2.3,2.7, 2.6,2.9];
const ncHubLo95 = [4.2,3.7,3.2,2.7, 3.3,2.9,2.5,2.1, 4.2,3.7,3.2,2.7, 3.7,3.2,2.7,2.2, 2.8,2.4,1.9,1.5, 1.5,1.3,1,0.8, 1,0.8,0.7,0.5, 0.5,0.4,0.3,0.2, 0.5,0.7,0.8,1, 1,1.2];
const ncHubHi95 = [7.7,8.9,10.1,11.3, 7.1,8.2,9.2,10.3, 11.3,11.6,12,12.3, 10,10.5,11,11.5, 6.4,7,7.5,8.1, 3.6,4.1,4.6,5.1, 2.9,3.6,4.2,4.9, 2.2,2.5,2.9,3.2, 2.3,2.8,3.2,3.7, 3.6,3.9];

const rowLabels = [
  'Pathogen MLP · B · 100-epoch cap\nseed 42',
  'Pathogen MLP · B · 300-epoch cap\nseed 42',
  'Pathogen MLP · C · 100-epoch cap\nseed 42',
  'Pathogen MLP · C · 300-epoch cap\nseed 42',
  'Pathogen MLP · Two-stage · 100-epoch cap\nseed 42',
  'Pathogen MLP · Two-stage · 300-epoch cap\nseed 42',
  'Hub ensemble'
];

const GREEN = '#1b9e77', BLUE = '#3278c3', ORANGE = '#be5a28', GRAY = '#777777';
const FONT = 'DejaVu Sans';

function rgba(hex, a) {
  const n = parseInt(hex.slice(1), 16);
  return `rgba(${n >> 16},${(n >> 8) & 255},${n & 255},${a})`;
}
function buildSegs(starts) {
  let off = 0;
  return starts.map(s => {
    const n = Math.min(4, weekEnding.length - s);
    const seg = { s, n, off };
    off += n;
    return seg;
  });
}
const weekMs = weekEnding.map(d => Date.parse(d));
const modelSegs = buildSegs(modelSegStarts);
const hubSegs = buildSegs(hubSegStarts);

const panels = [
  { row: 0, col: 0, color: GREEN, segs: modelSegs, med: usB100Med, lo50: usB100Lo50, hi50: usB100Hi50, lo95: usB100Lo95, hi95: usB100Hi95, truth: usTruth },
  { row: 0, col: 1, color: GREEN, segs: modelSegs, med: ncB100Med, lo50: ncB100Lo50, hi50: ncB100Hi50, lo95: ncB100Lo95, hi95: ncB100Hi95, truth: ncTruth },
  { row: 1, col: 0, color: GREEN, segs: modelSegs, med: usB300Med, lo50: usB300Lo50, hi50: usB300Hi50, lo95: usB300Lo95, hi95: usB300Hi95, truth: usTruth },
  { row: 1, col: 1, color: GREEN, segs: modelSegs, med: ncB300Med, lo50: ncB300Lo50, hi50: ncB300Hi50, lo95: ncB300Lo95, hi95: ncB300Hi95, truth: ncTruth },
  { row: 2, col: 0, color: BLUE, segs: modelSegs, med: usC100Med, lo50: usC100Lo50, hi50: usC100Hi50, lo95: usC100Lo95, hi95: usC100Hi95, truth: usTruth },
  { row: 2, col: 1, color: BLUE, segs: modelSegs, med: ncC100Med, lo50: ncC100Lo50, hi50: ncC100Hi50, lo95: ncC100Lo95, hi95: ncC100Hi95, truth: ncTruth },
  { row: 3, col: 0, color: BLUE, segs: modelSegs, med: usC300Med, lo50: usC300Lo50, hi50: usC300Hi50, lo95: usC300Lo95, hi95: usC300Hi95, truth: usTruth },
  { row: 3, col: 1, color: BLUE, segs: modelSegs, med: ncC300Med, lo50: ncC300Lo50, hi50: ncC300Hi50, lo95: ncC300Lo95, hi95: ncC300Hi95, truth: ncTruth },
  { row: 4, col: 0, color: ORANGE, segs: modelSegs, med: usT100Med, lo50: usT100Lo50, hi50: usT100Hi50, lo95: usT100Lo95, hi95: usT100Hi95, truth: usTruth },
  { row: 4, col: 1, color: ORANGE, segs: modelSegs, med: ncT100Med, lo50: ncT100Lo50, hi50: ncT100Hi50, lo95: ncT100Lo95, hi95: ncT100Hi95, truth: ncTruth },
  { row: 5, col: 0, color: ORANGE, segs: modelSegs, med: usT300Med, lo50: usT300Lo50, hi50: usT300Hi50, lo95: usT300Lo95, hi95: usT300Hi95, truth: usTruth },
  { row: 5, col: 1, color: ORANGE, segs: modelSegs, med: ncT300Med, lo50: ncT300Lo50, hi50: ncT300Hi50, lo95: ncT300Lo95, hi95: ncT300Hi95, truth: ncTruth },
  { row: 6, col: 0, color: GRAY, line: '#4a4a4a', segs: hubSegs, med: usHubMed, lo50: usHubLo50, hi50: usHubHi50, lo95: usHubLo95, hi95: usHubHi95, truth: usTruth },
  { row: 6, col: 1, color: GRAY, line: '#4a4a4a', segs: hubSegs, med: ncHubMed, lo50: ncHubLo50, hi50: ncHubHi50, lo95: ncHubLo95, hi95: ncHubHi95, truth: ncTruth }
];

const GRID_LEFT = [429, 1298], GRID_W = 788, GRID_TOP = 107, GRID_H = 253, ROW_STEP = 290;
const X_MIN = Date.UTC(2025, 6, 22, 4), X_MAX = Date.UTC(2026, 7, 18, 20);
const xTickMs = xTickLabels.map(d => Date.parse(d));

const grids = [], xAxes = [], yAxes = [], series = [];

panels.forEach((p, gi) => {
  const isUS = p.col === 0;
  const bottom = p.row === 6;
  grids.push({
    left: GRID_LEFT[p.col], top: GRID_TOP + p.row * ROW_STEP, width: GRID_W, height: GRID_H,
    show: true, borderColor: '#1a1a1a', borderWidth: 1.6, backgroundColor: 'transparent'
  });
  xAxes.push({
    type: 'value', gridIndex: gi, min: X_MIN, max: X_MAX,
    axisLine: { show: false }, splitLine: { show: false },
    axisTick: { show: true, length: 7, lineStyle: { color: '#1a1a1a', width: 1.4 }, customValues: xTickMs },
    axisLabel: {
      show: bottom, customValues: xTickMs, rotate: 30, margin: 10, fontSize: 20, fontFamily: FONT, color: '#000',
      formatter: v => new Date(v).toISOString().slice(0, 7)
    },
    name: bottom ? 'Target week ending' : '', nameLocation: 'middle', nameGap: 82,
    nameTextStyle: { fontSize: 20, fontFamily: FONT, color: '#000' }
  });
  const ticks = isUS ? usTicks : ncTicks;
  yAxes.push({
    type: 'value', gridIndex: gi, min: 0, max: isUS ? 0.0248 : 0.0373,
    axisLine: { show: false }, splitLine: { show: false },
    axisTick: { show: true, length: 7, lineStyle: { color: '#1a1a1a', width: 1.4 }, customValues: ticks },
    axisLabel: {
      customValues: ticks, margin: 14, fontSize: 20, fontFamily: FONT, color: '#000',
      formatter: v => v.toFixed(isUS ? 3 : 2)
    }
  });

  const first = gi === 0;
  const band = (lo, hi, alpha, name) => ({
    type: 'custom', name, xAxisIndex: gi, yAxisIndex: gi, clip: true, silent: true,
    itemStyle: { color: rgba(p.color, alpha) },
    data: p.segs.map(seg => [weekMs[seg.s], p.med[seg.off] / 1000]),
    renderItem(params, api) {
      const seg = p.segs[params.dataIndex];
      const upper = [], lower = [];
      for (let j = 0; j < seg.n; j++) {
        const x = weekMs[seg.s + j];
        upper.push(api.coord([x, hi[seg.off + j] / 1000]));
        lower.push(api.coord([x, lo[seg.off + j] / 1000]));
      }
      const fill = rgba(p.color, alpha);
      return {
        type: 'polygon',
        shape: { points: upper.concat(lower.reverse()) },
        style: { fill, stroke: fill, lineWidth: 1 }
      };
    }
  });
  series.push(band(p.lo95, p.hi95, 0.2, first ? '95%' : 'b95-' + gi));
  series.push(band(p.lo50, p.hi50, 0.4, first ? '50%' : 'b50-' + gi));
  series.push({
    type: 'custom', name: 'med-' + gi, xAxisIndex: gi, yAxisIndex: gi, clip: true, silent: true,
    data: p.segs.map(seg => [weekMs[seg.s], p.med[seg.off] / 1000]),
    renderItem(params, api) {
      const seg = p.segs[params.dataIndex];
      const pts = [];
      for (let j = 0; j < seg.n; j++) pts.push(api.coord([weekMs[seg.s + j], p.med[seg.off + j] / 1000]));
      return { type: 'polyline', shape: { points: pts }, style: { stroke: p.line || p.color, lineWidth: 1.7, fill: null } };
    }
  });
  series.push({
    type: 'line', name: first ? 'Frozen truth' : 'truth-' + gi, xAxisIndex: gi, yAxisIndex: gi,
    symbol: 'none', silent: true, z: 5,
    lineStyle: { color: '#000', width: 2.2 }, itemStyle: { color: '#000' },
    data: p.truth.map((v, i) => [weekMs[truthStart + i], v / 1000])
  });
});

const graphic = [
  { type: 'text', x: 1053, y: 28, style: { text: 'COVID-19 ED visits · 2025-2026', align: 'center', verticalAlign: 'middle', font: `24px "${FONT}"`, fill: '#000' } },
  { type: 'text', x: 1053, y: 58, style: { text: 'Natural-input four-week forecasts; B0.1 calendar, every third saved origin', align: 'center', verticalAlign: 'middle', font: `24px "${FONT}"`, fill: '#000' } },
  { type: 'text', x: GRID_LEFT[0] + GRID_W / 2, y: 87, style: { text: 'United States', align: 'center', verticalAlign: 'middle', font: `24px "${FONT}"`, fill: '#000' } },
  { type: 'text', x: GRID_LEFT[1] + GRID_W / 2, y: 87, style: { text: 'North Carolina', align: 'center', verticalAlign: 'middle', font: `24px "${FONT}"`, fill: '#000' } }
];
rowLabels.forEach((t, r) => {
  graphic.push({
    type: 'text', x: 338, y: GRID_TOP + r * ROW_STEP + GRID_H / 2,
    style: { text: t, align: 'right', verticalAlign: 'middle', font: `15px "${FONT}"`, lineHeight: 18, fill: '#000' }
  });
});

const chart = echarts.init(document.getElementById('chart'), null, { renderer: 'canvas' });
chart.setOption({
  backgroundColor: '#fff',
  animation: false,
  textStyle: { fontFamily: FONT },
  grid: grids,
  xAxis: xAxes,
  yAxis: yAxes,
  legend: {
    right: 2106 - 1211, top: 113, orient: 'horizontal',
    itemWidth: 34, itemHeight: 14, itemGap: 34, symbolKeepAspect: true,
    padding: [6, 8], borderColor: '#cccccc', borderWidth: 1.2, borderRadius: 4,
    backgroundColor: 'rgba(255,255,255,0.8)',
    textStyle: { fontSize: 14.5, fontFamily: FONT, color: '#000' },
    data: [
      { name: 'Frozen truth', icon: 'path://M0,0H40V2.4H0Z', itemStyle: { color: '#000', borderWidth: 0 } },
      { name: '95%', icon: 'rect', itemStyle: { color: rgba(GREEN, 0.2), borderColor: rgba(GREEN, 0.35), borderWidth: 1 } },
      { name: '50%', icon: 'rect', itemStyle: { color: rgba(GREEN, 0.5), borderColor: rgba(GREEN, 0.6), borderWidth: 1 } }
    ]
  },
  graphic,
  series
});
</script>
</body>
</html>
